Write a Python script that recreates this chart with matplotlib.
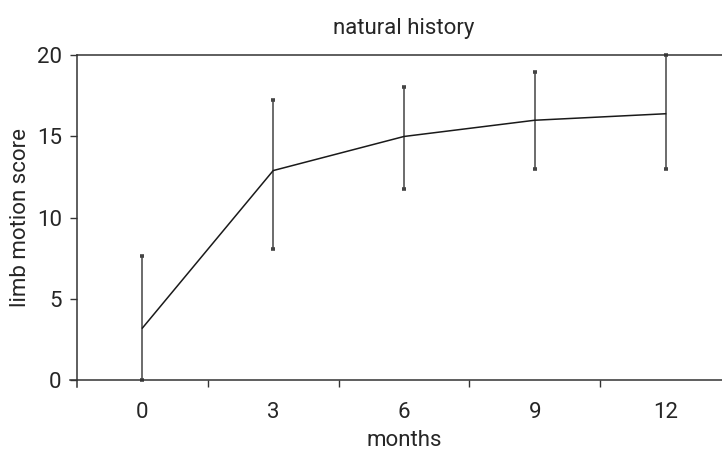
import matplotlib.pyplot as plt

# natural history of limb motion score (mean with lower/upper range)
months = ["0", "3", "6", "9", "12"]
score_mean = [3.2, 12.9, 15.0, 16.0, 16.4]
score_low = [0.0, 8.05, 11.75, 13.0, 13.0]
score_high = [7.65, 17.25, 18.05, 19.0, 20.0]

plt.rcParams['font.family'] = ['Roboto', 'DejaVu Sans']
text_col = '#262626'

fig = plt.figure(figsize=(7.22, 4.54), dpi=100)
# axes runs slightly past the right edge of the picture, as in the original
ax = fig.add_axes([77 / 722, (454 - 380) / 454, (731 - 77) / 722, (380 - 55.3) / 454])

pos = list(range(len(months)))
err_lo = [m - l for m, l in zip(score_mean, score_low)]
err_hi = [h - m for m, h in zip(score_mean, score_high)]

ax.errorbar(pos, score_mean, yerr=[err_lo, err_hi], fmt='none',
            ecolor='#444444', elinewidth=1.1, capsize=1.2, capthick=2.6,
            clip_on=False, zorder=2)
ax.plot(pos, score_mean, color='#1a1a1a', linewidth=1.1, zorder=3)

ax.set_xlim(-0.5, 4.5)
ax.set_ylim(0, 20)

# labels at the category centres, tick marks between categories
ax.set_xticks(pos)
ax.set_xticklabels(months)
ax.tick_params(axis='x', which='major', length=0, pad=16, labelsize=16, colors=text_col)
ax.set_xticks([p + 0.5 for p in pos[:-1]], minor=True)
ax.tick_params(axis='x', which='minor', length=5, width=1, direction='out', color='#333333')

ax.set_yticks([0, 5, 10, 15, 20])
ax.tick_params(axis='y', length=5, width=1, direction='out', pad=6, labelsize=16,
               colors=text_col)
ax.tick_params(axis='both', color='#333333')

for side in ['left', 'bottom', 'top']:
    ax.spines[side].set_color('#333333')
    ax.spines[side].set_linewidth(1.1)
ax.spines['right'].set_visible(False)
# axis lines cross each other at the origin
ax.spines['left'].set_bounds(-0.45, 20)
ax.spines['bottom'].set_bounds(-0.555, 4.5)

ax.set_xlabel('months', fontsize=16, color=text_col, labelpad=5)
ax.set_ylabel('limb motion score', fontsize=16, color=text_col)
ax.yaxis.set_label_coords(-0.071, 0.5)
ax.set_title('natural history', fontsize=16, color=text_col, pad=15)

fig.savefig('out.png', dpi=100)
